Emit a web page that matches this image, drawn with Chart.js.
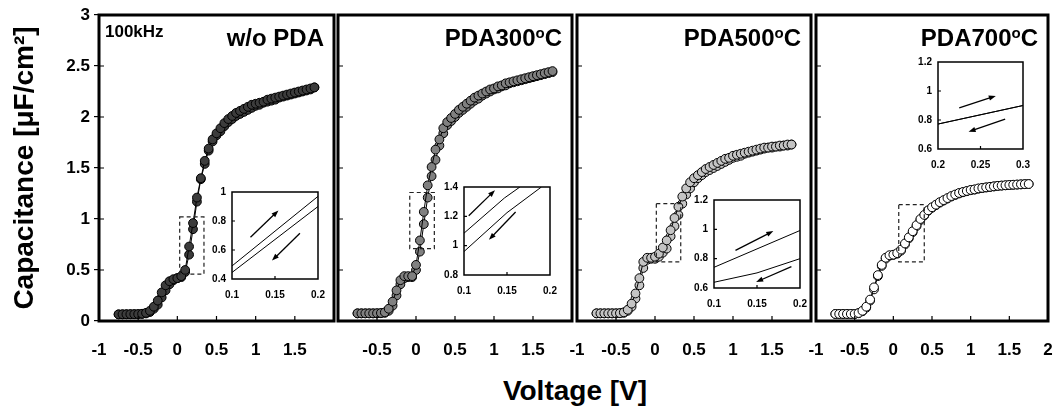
<!DOCTYPE html>
<html>
<head>
<meta charset="utf-8">
<script src="https://cdn.jsdelivr.net/npm/chart.js@4"></script>
<style>
  body { margin: 0; background: #fff; }
  #wrap { position: relative; width: 1058px; height: 416px; overflow: hidden; font-family: 'Liberation Sans', Arial, sans-serif; }
  #wrap canvas { position: absolute; }
  #xtitle { position: absolute; left: 425px; width: 300px; top: 374px; text-align: center; font-weight: bold; font-size: 28px; line-height: 34px; }
</style>
</head>
<body>
<div id="wrap">
  <canvas id="p1"></canvas>
  <canvas id="p2"></canvas>
  <canvas id="p3"></canvas>
  <canvas id="p4"></canvas>
  <canvas id="i1"></canvas>
  <canvas id="i2"></canvas>
  <canvas id="i3"></canvas>
  <canvas id="i4"></canvas>
  <div id="xtitle">Voltage [V]</div>
</div>
<script>
// gate voltage, same for every sample (V)
const voltage = [-0.75, -0.7, -0.65, -0.6, -0.55, -0.5, -0.45, -0.4, -0.35, -0.3,
    -0.25, -0.2, -0.15, -0.1, -0.05, 0, 0.05, 0.1, 0.15, 0.2,
    0.25, 0.3, 0.35, 0.4, 0.45, 0.5, 0.55, 0.6, 0.65, 0.7,
    0.75, 0.8, 0.85, 0.9, 0.95, 1, 1.05, 1.1, 1.15, 1.2,
    1.25, 1.3, 1.35, 1.4, 1.45, 1.5, 1.55, 1.6, 1.65, 1.7, 1.75];

// capacitance (uF/cm2), up sweep and down sweep
const woPdaUp = [0.065, 0.066, 0.066, 0.067, 0.067, 0.068, 0.071, 0.08, 0.1, 0.14,
    0.2, 0.28, 0.35, 0.39, 0.41, 0.42, 0.44, 0.5, 0.73, 0.96,
    1.21, 1.4, 1.57, 1.69, 1.78, 1.84, 1.89, 1.94, 1.98, 2.01,
    2.04, 2.06, 2.08, 2.1, 2.12, 2.13, 2.14, 2.15, 2.17, 2.18,
    2.19, 2.2, 2.21, 2.22, 2.23, 2.24, 2.25, 2.26, 2.27, 2.28, 2.29];
const woPdaDown = [0.065, 0.065, 0.066, 0.066, 0.067, 0.067, 0.069, 0.074, 0.088, 0.12,
    0.16, 0.23, 0.3, 0.36, 0.4, 0.42, 0.43, 0.48, 0.65, 0.9,
    1.17, 1.39, 1.54, 1.67, 1.76, 1.82, 1.86, 1.91, 1.95, 1.98,
    2.01, 2.03, 2.05, 2.07, 2.09, 2.11, 2.12, 2.14, 2.15, 2.16,
    2.17, 2.19, 2.2, 2.21, 2.22, 2.23, 2.24, 2.25, 2.26, 2.27, 2.29];

const pda300Up = [0.075, 0.075, 0.075, 0.075, 0.075, 0.076, 0.078, 0.085, 0.12, 0.19,
    0.3, 0.4, 0.44, 0.44, 0.44, 0.55, 0.79, 1.07, 1.33, 1.51,
    1.68, 1.78, 1.89, 1.95, 1.99, 2.03, 2.07, 2.1, 2.13, 2.16,
    2.19, 2.21, 2.23, 2.25, 2.27, 2.28, 2.3, 2.31, 2.33, 2.34,
    2.35, 2.36, 2.37, 2.38, 2.39, 2.4, 2.41, 2.42, 2.43, 2.44, 2.45];
const pda300Down = [0.075, 0.075, 0.075, 0.075, 0.075, 0.075, 0.076, 0.08, 0.1, 0.15,
    0.25, 0.36, 0.42, 0.43, 0.43, 0.5, 0.68, 0.95, 1.21, 1.42,
    1.58, 1.72, 1.84, 1.92, 1.96, 2.0, 2.04, 2.07, 2.1, 2.13,
    2.16, 2.18, 2.21, 2.23, 2.25, 2.27, 2.28, 2.3, 2.31, 2.33,
    2.34, 2.35, 2.36, 2.37, 2.38, 2.39, 2.4, 2.41, 2.42, 2.43, 2.44];

const pda500Up = [0.075, 0.075, 0.075, 0.075, 0.075, 0.075, 0.077, 0.085, 0.11, 0.17,
    0.27, 0.42, 0.58, 0.62, 0.62, 0.63, 0.66, 0.72, 0.79, 0.89,
    1.01, 1.12, 1.22, 1.3, 1.36, 1.4, 1.43, 1.46, 1.49, 1.51,
    1.53, 1.55, 1.57, 1.59, 1.6, 1.62, 1.63, 1.64, 1.65, 1.66,
    1.67, 1.68, 1.69, 1.7, 1.7, 1.71, 1.71, 1.72, 1.72, 1.73, 1.73];
const pda500Down = [0.075, 0.075, 0.075, 0.075, 0.075, 0.075, 0.076, 0.08, 0.1, 0.14,
    0.22, 0.35, 0.52, 0.6, 0.61, 0.61, 0.63, 0.67, 0.71, 0.83,
    0.93, 1.04, 1.15, 1.24, 1.3, 1.36, 1.4, 1.43, 1.46, 1.48,
    1.5, 1.52, 1.54, 1.56, 1.58, 1.6, 1.61, 1.62, 1.64, 1.65,
    1.66, 1.67, 1.68, 1.69, 1.7, 1.7, 1.71, 1.71, 1.72, 1.72, 1.73];

const pda700Up = [0.069, 0.069, 0.069, 0.069, 0.069, 0.069, 0.078, 0.1, 0.14, 0.21,
    0.33, 0.45, 0.55, 0.62, 0.645, 0.65, 0.665, 0.7, 0.76, 0.82,
    0.88, 0.94, 1.0, 1.04, 1.085, 1.115, 1.14, 1.165, 1.185, 1.205,
    1.225, 1.24, 1.255, 1.265, 1.275, 1.285, 1.29, 1.3, 1.305, 1.31,
    1.315, 1.32, 1.325, 1.328, 1.331, 1.334, 1.336, 1.338, 1.34, 1.342, 1.343];
const pda700Down = [0.069, 0.069, 0.069, 0.069, 0.069, 0.069, 0.076, 0.095, 0.13, 0.2,
    0.31, 0.44, 0.54, 0.61, 0.64, 0.648, 0.66, 0.69, 0.75, 0.81,
    0.87, 0.93, 0.99, 1.035, 1.08, 1.11, 1.135, 1.16, 1.18, 1.2,
    1.22, 1.235, 1.25, 1.262, 1.272, 1.282, 1.288, 1.297, 1.303, 1.309,
    1.314, 1.319, 1.324, 1.327, 1.33, 1.333, 1.335, 1.337, 1.339, 1.341, 1.343];

// zoomed insets (V, uF/cm2)
const inset1UpV = [0.1, 0.2], inset1UpC = [0.49, 0.97];
const inset1DownV = [0.1, 0.2], inset1DownC = [0.445, 0.9];
const inset2UpV = [0.1, 0.147, 0.165], inset2UpC = [1.085, 1.325, 1.4];
const inset2DownV = [0.1, 0.15, 0.19], inset2DownC = [0.96, 1.225, 1.4];
const inset3UpV = [0.1, 0.2], inset3UpC = [0.741, 0.992];
const inset3DownV = [0.1, 0.15, 0.2], inset3DownC = [0.639, 0.703, 0.8];
const inset4UpV = [0.2, 0.3], inset4UpC = [0.772, 0.9];
const inset4DownV = [0.2, 0.3], inset4DownC = [0.772, 0.9];

Chart.defaults.font.family = "'Liberation Sans', Arial, sans-serif";
Chart.defaults.color = '#000';

const FONT = "'Liberation Sans', Arial, sans-serif";

function pts(xs, ys) {
    return xs.map(function(x, i) { return {x: x, y: ys[i]}; });
}

function fmt(v) {
    return String(Math.round(v * 1000) / 1000);
}

function drawArrow(ctx, x1, y1, x2, y2) {
    const ang = Math.atan2(y2 - y1, x2 - x1);
    const len = 7, half = 2.6;
    ctx.beginPath();
    ctx.moveTo(x1, y1);
    ctx.lineTo(x2 - Math.cos(ang) * len * 0.8, y2 - Math.sin(ang) * len * 0.8);
    ctx.stroke();
    ctx.beginPath();
    ctx.moveTo(x2, y2);
    ctx.lineTo(x2 - Math.cos(ang) * len - Math.sin(ang) * half, y2 - Math.sin(ang) * len + Math.cos(ang) * half);
    ctx.lineTo(x2 - Math.cos(ang) * len + Math.sin(ang) * half, y2 - Math.sin(ang) * len - Math.cos(ang) * half);
    ctx.closePath();
    ctx.fill();
}

// frame, inner ticks, dashed zoom box, arrows and panel labels
const decor = {
    id: 'decor',
    beforeDatasetsDraw(chart, args, o) {
        if (!o.white) return;
        const a = chart.chartArea;
        chart.ctx.save();
        chart.ctx.fillStyle = '#fff';
        chart.ctx.fillRect(a.left, a.top, a.right - a.left, a.bottom - a.top);
        chart.ctx.restore();
    },
    afterDatasetsDraw(chart, args, o) {
        const ctx = chart.ctx, xs = chart.scales.x, ys = chart.scales.y, a = chart.chartArea;
        ctx.save();
        ctx.strokeStyle = '#000';
        ctx.fillStyle = '#000';
        if (o.dash) {
            const x0 = xs.getPixelForValue(o.dash[0]), x1 = xs.getPixelForValue(o.dash[1]);
            const y0 = ys.getPixelForValue(o.dash[2]), y1 = ys.getPixelForValue(o.dash[3]);
            ctx.setLineDash([4, 3]);
            ctx.lineWidth = 1.2;
            ctx.strokeStyle = '#222';
            ctx.strokeRect(x0, y1, x1 - x0, y0 - y1);
            ctx.setLineDash([]);
            ctx.strokeStyle = '#000';
        }
        (o.arrows || []).forEach(function(ar) {
            ctx.lineWidth = 1.3;
            drawArrow(ctx, xs.getPixelForValue(ar[0]), ys.getPixelForValue(ar[1]),
                xs.getPixelForValue(ar[2]), ys.getPixelForValue(ar[3]));
        });
        ctx.lineWidth = o.frame;
        ctx.strokeRect(a.left, a.top, a.right - a.left, a.bottom - a.top);
        ctx.lineWidth = 1.2;
        ctx.beginPath();
        xs.ticks.forEach(function(t) {
            const px = xs.getPixelForValue(t.value);
            if (px > a.left + 3 && px < a.right - 3) {
                ctx.moveTo(px, a.bottom);
                ctx.lineTo(px, a.bottom - o.tick);
            }
        });
        ys.ticks.forEach(function(t) {
            const py = ys.getPixelForValue(t.value);
            if (py > a.top + 3 && py < a.bottom - 3) {
                ctx.moveTo(a.left, py);
                ctx.lineTo(a.left + o.tick, py);
            }
        });
        ctx.stroke();
        if (o.note) {
            ctx.font = 'bold 17px ' + FONT;
            ctx.textAlign = 'left';
            ctx.textBaseline = 'alphabetic';
            ctx.fillText(o.note, a.left + 6, a.top + 22);
        }
        if (o.title) {
            // title parts: [text, superscript?]
            ctx.textBaseline = 'alphabetic';
            ctx.textAlign = 'left';
            let w = 0;
            o.title.forEach(function(p) {
                ctx.font = 'bold ' + (p[1] ? 15 : 24) + 'px ' + FONT;
                w += ctx.measureText(p[0]).width;
            });
            let x = a.right - 10 - w;
            const base = a.top + 30.5;
            o.title.forEach(function(p) {
                ctx.font = 'bold ' + (p[1] ? 15 : 24) + 'px ' + FONT;
                ctx.fillText(p[0], x, p[1] ? base - 8 : base);
                x += ctx.measureText(p[0]).width;
            });
        }
        ctx.restore();
    }
};

function mainPanel(id, left, width, padLeft, padRight, up, down, fill, hide, deco, showY) {
    const el = document.getElementById(id);
    el.width = width;
    el.height = 365;
    el.style.left = left + 'px';
    el.style.top = '0px';
    const sweep = function(vals) {
        return {
            data: pts(voltage, vals),
            showLine: true,
            borderColor: '#000',
            borderWidth: 1,
            pointRadius: 4.4,
            pointBackgroundColor: fill,
            pointBorderColor: '#000',
            pointBorderWidth: 1
        };
    };
    new Chart(el, {
        type: 'scatter',
        data: { datasets: [sweep(up), sweep(down)] },
        options: {
            responsive: false,
            animation: false,
            events: [],
            layout: { padding: { left: padLeft, right: padRight, top: 15, bottom: 0 } },
            plugins: { legend: { display: false }, tooltip: { enabled: false }, decor: deco },
            scales: {
                x: {
                    type: 'linear', min: -1, max: 2,
                    afterFit: function(s) { s.height = 44; },
                    grid: { display: false, drawTicks: false },
                    border: { display: false },
                    ticks: {
                        stepSize: 0.5, padding: 19, color: '#000',
                        font: { size: 17, weight: 'bold' },
                        callback: function(v) {
                            return hide.some(function(h) { return Math.abs(h - v) < 1e-6; }) ? '' : fmt(v);
                        }
                    }
                },
                y: {
                    type: 'linear', min: 0, max: 3,
                    afterFit: function(s) { s.width = showY ? 99 : 0; },
                    grid: { display: showY, drawOnChartArea: false, drawTicks: true, tickLength: 5, color: '#000', lineWidth: 1.2 },
                    border: { display: false },
                    ticks: {
                        display: showY, stepSize: 0.5, padding: 4, color: '#000',
                        font: { size: 17, weight: 'bold' },
                        callback: fmt
                    },
                    title: {
                        display: showY,
                        text: 'Capacitance [\u03bcF/cm\u00b2]',
                        color: '#000',
                        font: { size: 28, weight: 'bold' },
                        padding: { top: 8, bottom: 0 }
                    }
                }
            }
        },
        plugins: [decor]
    });
}

function insetPanel(id, box, upV, upC, downV, downC, xMin, xMax, yMin, yMax, arrows) {
    const el = document.getElementById(id);
    el.width = box.w + 32 + 24;
    el.height = box.h + 14 + 24;
    el.style.left = (box.l - 32) + 'px';
    el.style.top = (box.t - 14) + 'px';
    const line = function(xs, ys) {
        return { data: pts(xs, ys), showLine: true, borderColor: '#000', borderWidth: 1, pointRadius: 0 };
    };
    new Chart(el, {
        type: 'scatter',
        data: { datasets: [line(upV, upC), line(downV, downC)] },
        options: {
            responsive: false,
            animation: false,
            events: [],
            layout: { padding: { left: 0, right: 24, top: 14, bottom: 0 } },
            plugins: {
                legend: { display: false }, tooltip: { enabled: false },
                decor: { frame: 1.5, tick: 3, arrows: arrows, white: true }
            },
            scales: {
                x: {
                    type: 'linear', min: xMin, max: xMax,
                    afterFit: function(s) { s.height = 24; },
                    grid: { display: false, drawTicks: false },
                    border: { display: false },
                    ticks: { stepSize: 0.05, padding: 10, color: '#000', font: { size: 10, weight: 'bold' }, callback: fmt }
                },
                y: {
                    type: 'linear', min: yMin, max: yMax,
                    afterFit: function(s) { s.width = 32; },
                    grid: { display: false, drawTicks: false },
                    border: { display: false },
                    ticks: { stepSize: 0.2, padding: 6, color: '#000', font: { size: 10, weight: 'bold' }, callback: fmt }
                }
            }
        },
        plugins: [decor]
    });
}

document.addEventListener('DOMContentLoaded', function() {
    mainPanel('p1', 0, 364, 0, 30, woPdaUp, woPdaDown, '#3c3c3c', [2],
        { frame: 3, tick: 5, dash: [0.03, 0.34, 0.46, 1.02], note: '100kHz', title: [['w/o PDA', false]] }, true);
    mainPanel('p2', 308, 294, 30, 30, pda300Up, pda300Down, '#808080', [-1, 2],
        { frame: 3, tick: 5, dash: [-0.08, 0.235, 0.71, 1.26], title: [['PDA300', false], ['o', true], ['C', false]] }, false);
    mainPanel('p3', 547, 294, 30, 30, pda500Up, pda500Down, '#c4c4c4', [2],
        { frame: 3, tick: 5, dash: [0.017, 0.33, 0.58, 1.15], title: [['PDA500', false], ['o', true], ['C', false]] }, false);
    mainPanel('p4', 786, 292, 30, 30, pda700Up, pda700Down, '#ffffff', [],
        { frame: 3, tick: 5, dash: [0.07, 0.4, 0.58, 1.14], title: [['PDA700', false], ['o', true], ['C', false]] }, false);

    insetPanel('i1', { l: 232, t: 192, w: 86, h: 87 }, inset1UpV, inset1UpC, inset1DownV, inset1DownC,
        0.1, 0.2, 0.4, 1, [[0.1215, 0.688, 0.154, 0.873], [0.179, 0.716, 0.1465, 0.527]]);
    insetPanel('i2', { l: 464, t: 187, w: 86, h: 88 }, inset2UpV, inset2UpC, inset2DownV, inset2DownC,
        0.1, 0.2, 0.8, 1.4, [[0.1055, 1.204, 0.136, 1.378], [0.16, 1.23, 0.129, 1.04]]);
    insetPanel('i3', { l: 714, t: 200, w: 86, h: 88 }, inset3UpV, inset3UpC, inset3DownV, inset3DownC,
        0.1, 0.2, 0.6, 1.2, [[0.125, 0.856, 0.169, 0.988], [0.19, 0.746, 0.149, 0.641]]);
    insetPanel('i4', { l: 938, t: 62, w: 85, h: 87 }, inset4UpV, inset4UpC, inset4DownV, inset4DownC,
        0.2, 0.3, 0.6, 1.2, [[0.225, 0.884, 0.268, 0.966], [0.279, 0.806, 0.236, 0.719]]);
});
</script>
</body>
</html>
